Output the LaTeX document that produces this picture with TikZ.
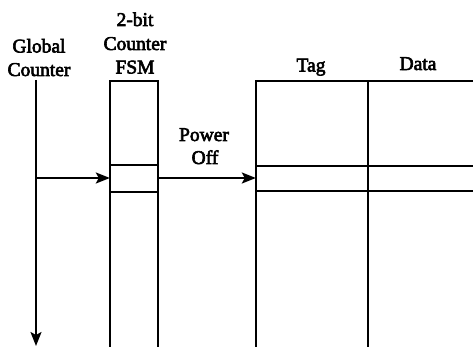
\documentclass[tikz,border=0pt]{standalone}
\usepackage{fontspec}
\setmainfont{Liberation Serif}
\newcommand{\heavytext}[1]{\special{pdf:literal 2 Tr 0.6 w}#1\special{pdf:literal 0 Tr}}
\usetikzlibrary{arrows.meta}
\begin{document}
\begin{tikzpicture}[x=1pt,y=-1pt,
  ln/.style={line width=2pt,black},
  lbl/.style={font=\fontsize{19.5}{24}\selectfont,align=center,inner sep=0pt,anchor=base},
  arr/.style={ln,-{Stealth[length=14pt,width=11pt,inset=3pt]}}]
\useasboundingbox (0,0) rectangle (473,347);
% labels
\node[lbl] (gl) at (39,52.5) {\heavytext{Global}};
\node[lbl] (gc) at (39,76) {\heavytext{Counter}};
\node[lbl] (f1) at (135,26) {\heavytext{2-bit}};
\node[lbl] (f2) at (135,50) {\heavytext{Counter}};
\node[lbl] (f3) at (135,73.5) {\heavytext{FSM}};
\node[lbl] (p1) at (204,141) {\heavytext{Power}};
\node[lbl] (p2) at (205,164) {\heavytext{Off}};
\node[lbl] (tag) at (311,71.5) {\heavytext{Tag}};
\node[lbl] (dat) at (418,70) {\heavytext{Data}};
% coordinates
\coordinate (gtop) at (36,80);
\coordinate (gbot) at (36,346);
\coordinate (gmid) at (36,178);
% FSM column
\draw[ln] (110,348) -- (110,81) -- (158,81) -- (158,348);
\draw[ln] (110,165) -- (158,165);
\draw[ln] (110,192) -- (158,192);
\node[inner sep=0pt,minimum width=48pt,minimum height=27pt] (fsm) at (134,178) {};
% table
\draw[ln] (256,348) -- (256,81) -- (474,81);
\draw[ln] (368,81) -- (368,348);
\draw[ln] (256,166) -- (474,166);
\draw[ln] (256,191) -- (474,191);
\node[inner sep=0pt,minimum width=2pt,minimum height=24pt] (row) at (257,178) {};
% arrows
\draw[arr] (gtop) -- (gbot);
\draw[arr] (gmid) -- (fsm.west);
\draw[arr] (fsm.east) -- (row.west);
\end{tikzpicture}
\end{document}
